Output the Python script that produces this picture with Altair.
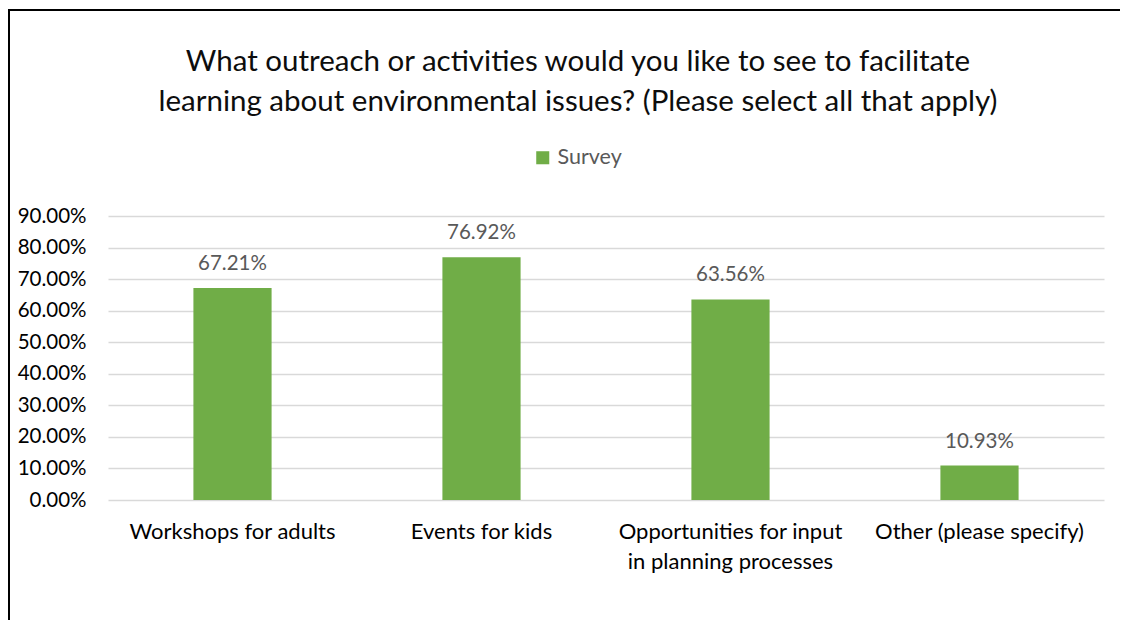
import altair as alt
import pandas as pd

categories = ["Workshops for adults", "Events for kids",
              "Opportunities for input in planning processes", "Other (please specify)"]
values = [0.6721, 0.7692, 0.6356, 0.1093]
series = ["Survey"] * 4
y_ticks = [0, .1, .2, .3, .4, .5, .6, .7, .8, .9]
title_lines = ["What outreach or activities would you like to see to facilitate",
               "learning about environmental issues? (Please select all that apply)"]

df = pd.DataFrame({"category": categories, "value": values, "series": series})

FONT = "Lato"

x_enc = alt.X("category:N", sort=categories, title=None,
              scale=alt.Scale(paddingInner=0.686, paddingOuter=0.343),
              axis=alt.Axis(labelAngle=0, labelFontSize=22, labelColor="#000000",
                            labelFont=FONT, ticks=False, domain=False, labelPadding=21,
                            labelLineHeight=30, labelBaseline="top", labelLimit=0,
                            labelOverlap=False,
                            labelExpr="datum.label == 'Opportunities for input in planning processes' ? ['Opportunities for input', 'in planning processes'] : datum.label"))
y_enc = alt.Y("value:Q", title=None,
              scale=alt.Scale(domain=[0, 0.9], nice=False),
              axis=alt.Axis(format=".2%", values=y_ticks, labelOverlap=False,
                            labelFontSize=20.5, labelColor="#000000", labelFont=FONT,
                            ticks=False, domain=False, labelPadding=22,
                            gridColor="#d9d9d9", gridWidth=1.5))

bars = alt.Chart(df).mark_bar(color="#70ad47").encode(
    x=x_enc, y=y_enc,
    color=alt.Color("series:N", scale=alt.Scale(range=["#70ad47"]),
                    legend=alt.Legend(title=None, orient="none", legendX=424, legendY=-69,
                                      symbolType="square", symbolSize=170,
                                      symbolStrokeWidth=0,
                                      labelFontSize=21.5, labelColor="#595959",
                                      labelFont=FONT))
)

labels = alt.Chart(df).mark_text(baseline="alphabetic", dy=-18, fontSize=20.5,
                                 color="#595959", font=FONT).encode(
    x=x_enc,
    y=y_enc,
    text=alt.Text("value:Q", format=".2%")
)

frame = alt.Chart(df).mark_rect(fill=None, stroke="#000000", strokeWidth=2).encode(
    x=alt.value(-99), x2=alt.value(1200), y=alt.value(-206), y2=alt.value(700)
)

chart = alt.layer(frame, bars, labels).properties(
    width=996, height=284,
    autosize=alt.AutoSizeParams(type="none"),
    padding={"left": 100, "top": 208, "right": 16, "bottom": 120},
    background="white",
    title=alt.Title(
        title_lines,
        fontSize=29.5, font=FONT, fontWeight="normal", color="#0d0d0d",
        anchor="middle", dx=-28, dy=108, offset=0, lineHeight=40)
).configure_view(strokeWidth=0, stroke=None)

chart.save("out.html", embed_options={"renderer": "svg", "actions": False})
